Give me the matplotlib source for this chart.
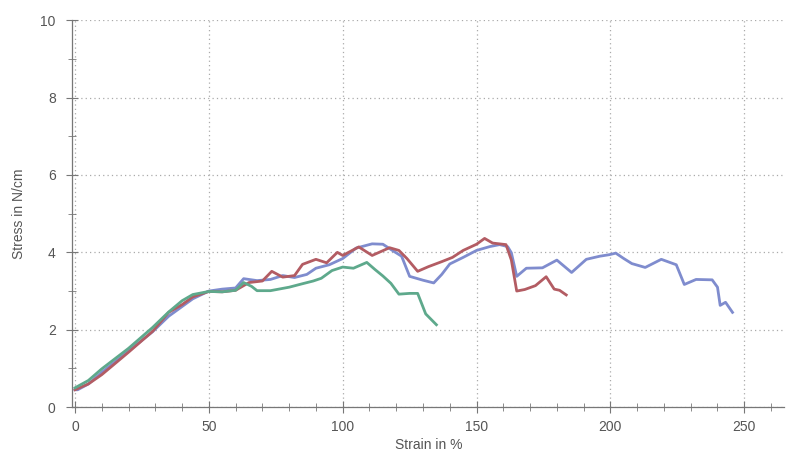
import numpy as np
import matplotlib.pyplot as plt
from matplotlib.ticker import MultipleLocator

plt.rcParams["font.family"] = ["Liberation Sans", "DejaVu Sans"]

# sample 1 (blue)
strain_a = [0, 1, 5, 10, 20, 29, 35, 40, 44, 50, 55, 60, 63, 68, 73, 77.6, 82, 86.6, 90, 95,
            100, 105, 111, 115, 119, 122, 125, 130, 134, 137, 140, 145, 150, 155, 158.6, 161.6,
            163, 165, 168.6, 174.6, 180, 185.5, 191, 196, 199.6, 202, 205, 208, 213, 219,
            224.6, 227.6, 232, 238, 240, 241, 243, 245.6]
stress_a = [0.45, 0.45, 0.6, 0.9, 1.45, 1.95, 2.35, 2.6, 2.8, 3.0, 3.05, 3.08, 3.32, 3.27, 3.3,
            3.4, 3.35, 3.43, 3.59, 3.68, 3.84, 4.11, 4.22, 4.21, 4.03, 3.9, 3.38, 3.28, 3.21,
            3.43, 3.7, 3.87, 4.05, 4.15, 4.2, 4.15, 3.99, 3.38, 3.59, 3.6, 3.8, 3.48, 3.82,
            3.9, 3.94, 3.98, 3.84, 3.71, 3.61, 3.82, 3.68, 3.17, 3.3, 3.29, 3.1, 2.63, 2.71, 2.45]

# sample 2 (red)
strain_b = [0, 5, 10, 20, 29, 35, 40, 44, 50, 55, 60, 65, 70, 73.5, 77.6, 82, 85, 90, 94, 98,
            100, 106, 111, 117.5, 121, 124, 128, 132, 137, 141, 145, 150, 153, 156, 161, 163,
            165, 168, 172, 176, 179, 181, 183.5]
stress_b = [0.45, 0.6, 0.84, 1.42, 1.96, 2.45, 2.65, 2.85, 2.99, 2.98, 3.02, 3.22, 3.26, 3.51,
            3.36, 3.4, 3.69, 3.82, 3.73, 4.0, 3.92, 4.14, 3.92, 4.12, 4.05, 3.84, 3.51, 3.63,
            3.76, 3.87, 4.05, 4.21, 4.36, 4.24, 4.2, 3.8, 3.0, 3.04, 3.14, 3.37, 3.05, 3.02, 2.9]

# sample 3 (green)
strain_c = [0, 5, 10, 20, 29, 35, 40, 44, 50, 55, 60, 63, 66, 68, 73, 80, 85, 89, 92, 96,
            100, 104, 109, 112, 115, 118, 121, 125, 128, 131, 135]
stress_c = [0.5, 0.69, 0.99, 1.52, 2.06, 2.46, 2.75, 2.91, 2.99, 2.98, 3.02, 3.22, 3.12, 3.01,
            3.01, 3.1, 3.19, 3.26, 3.33, 3.53, 3.62, 3.59, 3.74, 3.56, 3.39, 3.2, 2.92, 2.94,
            2.94, 2.41, 2.13]

fig = plt.figure(figsize=(7.86, 4.57), dpi=100)
ax = fig.add_axes([0.092, 0.109, 0.906, 0.847])

ax.plot(strain_a, stress_a, color="#7f8cce", lw=2)
ax.plot(strain_b, stress_b, color="#b35c63", lw=2)
ax.plot(strain_c, stress_c, color="#5ea98c", lw=2)

ax.set_xlim(-1, 265)
ax.set_ylim(0, 10)
ax.xaxis.set_major_locator(MultipleLocator(50))
ax.xaxis.set_minor_locator(MultipleLocator(10))
ax.yaxis.set_major_locator(MultipleLocator(2))
ax.yaxis.set_minor_locator(MultipleLocator(1))
ax.grid(True, which="major", linestyle=(0, (1, 2.5)), color="#aaaaaa", lw=0.9)

for side in ["top", "right"]:
    ax.spines[side].set_visible(False)
for side in ["left", "bottom"]:
    ax.spines[side].set_color("#777777")
    ax.spines[side].set_linewidth(0.9)

ax.tick_params(which="both", direction="inout", color="#777777", labelcolor="#555555",
               labelsize=10)
ax.tick_params(which="major", length=8, pad=8)
ax.tick_params(axis="x", which="major", pad=5)
ax.tick_params(which="minor", length=6)

ax.set_xlabel("Strain in %", color="#555555", fontsize=10, labelpad=3)
ax.set_ylabel("Stress in N/cm", color="#555555", fontsize=10, labelpad=10)

fig.savefig("out.png", dpi=100)
